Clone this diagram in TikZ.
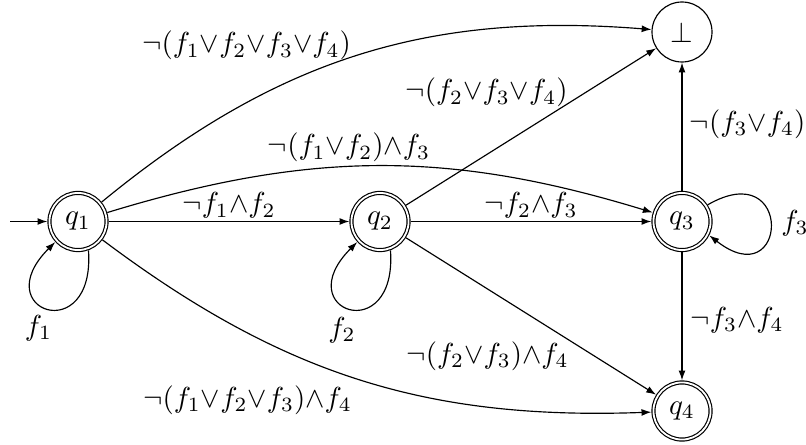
\documentclass[tikz,border=0pt]{standalone}
\usetikzlibrary{arrows.meta}
\begin{document}
\begin{tikzpicture}[x=0.345pt,y=0.345pt,
  >={Latex[length=3.4pt,width=2.4pt]},
  state/.style={circle,draw,inner sep=0pt,minimum size=20.7pt},
  accepting/.style={circle,draw,double,double distance=0.63pt,inner sep=0pt,minimum size=19.7pt,outer sep=0.72pt},
  lbl/.style={inner sep=0pt}]
\useasboundingbox (0,0) rectangle (806,-445);
% states
\node[accepting] (q1) at (78,-221.5) {$q_1$};
\node[accepting] (q2) at (380,-221.5) {$q_2$};
\node[accepting] (q3) at (682,-221.5) {$q_3$};
\node[accepting] (q4) at (682,-411) {$q_4$};
\node[state] (bot) at (682,-32) {$\bot$};
\coordinate (start) at (10,-221.5);
% transitions
\draw[->] (start) -- (q1);
\draw[->] (q1) -- (q2);
\draw[->] (q2) -- (q3);
\draw[->] (q1) to[bend left=22] (bot);
\draw[->] (q1) to[bend left=17] (q3);
\draw[->] (q1) to[bend right=19.5] (q4);
\draw[->] (q2) -- (bot);
\draw[->] (q2) -- (q4);
\draw[->] (q3) -- (bot);
\draw[->] (q3) -- (q4);
\draw[->] (q1.-70) .. controls +(-86:98) and +(-135:98) .. (q1.-138);
\draw[->] (q2.-70) .. controls +(-86:98) and +(-135:98) .. (q2.-138);
\draw[->] (q3.33) .. controls +(30:100) and +(-38:100) .. (q3.-27);
% labels
\node[lbl] (l1) at (246.5,-45.5) {$\neg(f_1{\vee}f_2{\vee}f_3{\vee}f_4)$};
\node[lbl] (l2) at (349,-147.5) {$\neg(f_1{\vee}f_2){\wedge}f_3$};
\node[lbl] (l3) at (229,-205.5) {$\neg f_1{\wedge}f_2$};
\node[lbl] (l4) at (247.5,-400) {$\neg(f_1{\vee}f_2{\vee}f_3){\wedge}f_4$};
\node[lbl] (l5) at (486.5,-92.5) {$\neg(f_2{\vee}f_3{\vee}f_4)$};
\node[lbl] (l6) at (531,-205.5) {$\neg f_2{\wedge}f_3$};
\node[lbl] (l7) at (487.5,-356) {$\neg(f_2{\vee}f_3){\wedge}f_4$};
\node[lbl] (l8) at (747.5,-124) {$\neg(f_3{\vee}f_4)$};
\node[lbl] (l9) at (737,-320) {$\neg f_3{\wedge}f_4$};
\node[lbl] (l10) at (38.5,-328) {$f_1$};
\node[lbl] (l11) at (342,-330) {$f_2$};
\node[lbl] (l12) at (795,-223) {$f_3$};
\end{tikzpicture}
\end{document}
